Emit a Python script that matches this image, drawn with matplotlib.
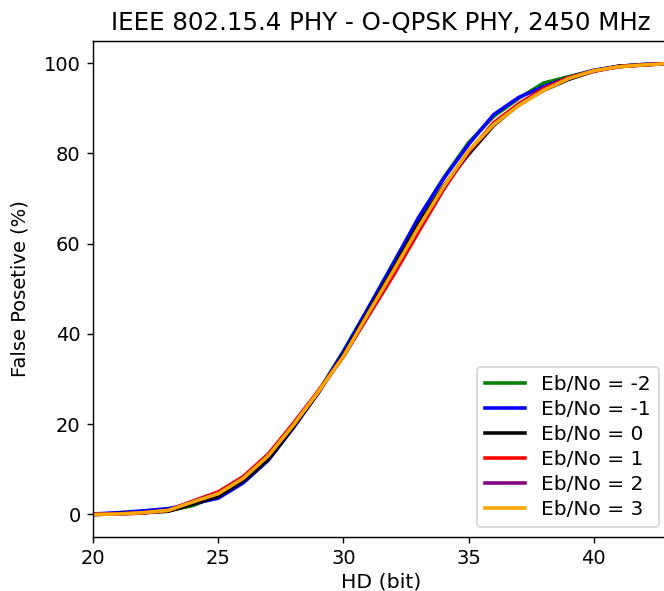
import numpy as np
import matplotlib
matplotlib.use("Agg")
import matplotlib.pyplot as plt

# Hamming distance threshold (bit)
hd = list(range(20, 44))

# false positive rate (%) per Eb/No
fp_m2 = [0, 0.2, 0.4, 0.8, 2.0, 4.2, 7.4, 12.4, 19.4, 27.2, 36.2, 45.8, 55.8, 65.6,
         74.6, 82.4, 88.2, 92.2, 95.6, 97.0, 98.4, 99.3, 99.7, 99.9]
fp_m1 = [0.1, 0.4, 0.8, 1.3, 2.4, 3.6, 7.0, 12.0, 19.2, 27.0, 36.0, 45.8, 55.6, 65.8,
         74.4, 82.0, 88.6, 92.4, 94.8, 96.8, 98.4, 99.3, 99.7, 99.9]
fp_0 = [0, 0.2, 0.4, 0.7, 2.3, 4.0, 7.4, 12.2, 19.4, 27.0, 35.4, 45.0, 54.6, 64.4,
        72.8, 79.8, 86.2, 90.8, 94.0, 96.4, 98.2, 99.3, 99.6, 99.9]
fp_1 = [0, 0.1, 0.3, 0.9, 3.0, 5.0, 8.4, 13.4, 20.2, 27.4, 35.0, 44.0, 53.0, 62.6,
        72.0, 80.2, 86.8, 91.0, 94.4, 96.8, 98.2, 99.2, 99.6, 99.9]
fp_2 = [0, 0.1, 0.4, 0.9, 2.9, 4.7, 8.1, 13.1, 19.9, 27.2, 35.0, 44.4, 53.8, 63.4,
        72.4, 80.4, 86.5, 90.7, 94.1, 96.6, 98.3, 99.2, 99.6, 99.9]
fp_3 = [0, 0.1, 0.4, 0.9, 2.8, 4.6, 8.0, 13.0, 19.8, 27.2, 35.0, 44.6, 54.0, 63.6,
        72.6, 80.6, 86.4, 90.6, 94.0, 96.6, 98.3, 99.2, 99.6, 99.9]

labels = ['Eb/No = -2', 'Eb/No = -1', 'Eb/No = 0', 'Eb/No = 1', 'Eb/No = 2', 'Eb/No = 3']
colors = ['green', 'blue', 'black', 'red', 'purple', 'orange']

plt.rcParams['font.family'] = 'DejaVu Sans'
fig = plt.figure(figsize=(664/128, 591/128), dpi=128)
# axes runs a bit past the right edge like in the original crop
ax = fig.add_axes([93/664, 54/591, 576/664, 496/591])

for y, lab, c in zip([fp_m2, fp_m1, fp_0, fp_1, fp_2, fp_3], labels, colors):
    ax.plot(hd, y, color=c, label=lab, linewidth=2)

ax.set_xlim(20, 43)
ax.set_xticks([20, 25, 30, 35, 40])
ax.set_yticks([0, 20, 40, 60, 80, 100])
ax.tick_params(labelsize=11)
ax.set_xlabel('HD (bit)', fontsize=11.5, labelpad=2)
ax.set_ylabel('False Posetive (%)', fontsize=11, labelpad=8)
ax.set_title('IEEE 802.15.4 PHY - O-QPSK PHY, 2450 MHz', fontsize=13.8)
ax.legend(loc='lower right', fontsize=11.3, labelspacing=0.3)

fig.savefig('out.png', dpi=128)
